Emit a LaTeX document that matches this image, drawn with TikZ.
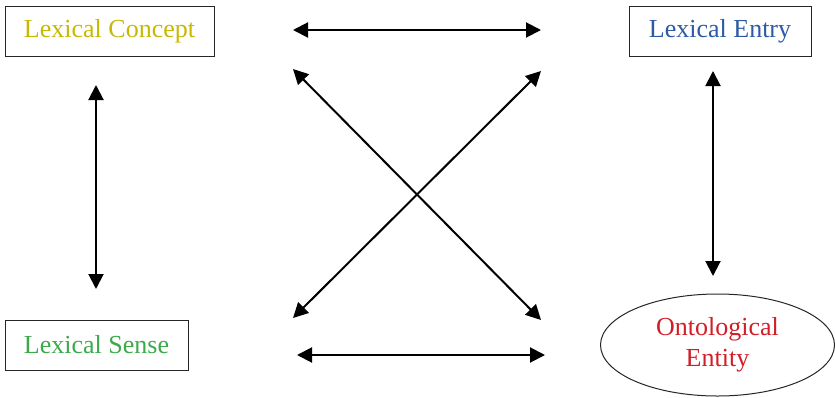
\documentclass[tikz,border=0pt]{standalone}
\usepackage{fontspec}
\setmainfont{Liberation Serif}
\usetikzlibrary{arrows.meta,shapes.geometric}
\definecolor{cconcept}{RGB}{200,185,0}
\definecolor{centry}{RGB}{46,90,165}
\definecolor{csense}{RGB}{60,170,75}
\definecolor{contol}{RGB}{210,30,40}
\tikzset{
  lexbox/.style={draw=black!85, line width=1pt, rectangle, inner sep=0pt, font=\fontsize{26}{28}\selectfont},
  rel/.style={line width=2pt, {Triangle[length=15pt,width=15pt]}-{Triangle[length=15pt,width=15pt]}}
}
\begin{document}
\begin{tikzpicture}[x=1pt,y=-1pt]
\useasboundingbox (0,0) rectangle (835,397);
\node[lexbox, minimum width=209pt, minimum height=50pt, text=cconcept] (concept) at (109.5,31) {Lexical Concept};
\node[lexbox, minimum width=182pt, minimum height=50pt, text=centry] (entry) at (720,31) {Lexical Entry};
\node[lexbox, minimum width=183pt, minimum height=50pt, text=csense] (sense) at (96.5,345) {Lexical Sense};
\node[ellipse, draw=black!85, line width=1pt, minimum width=234pt, minimum height=102pt, inner sep=0pt, align=center, text=contol, font=\fontsize{26}{31}\selectfont] (onto) at (717.5,345) {Ontological\\Entity};
\coordinate (t1) at (293,30); \coordinate (t2) at (541,30);
\coordinate (b1) at (297,355); \coordinate (b2) at (545,355);
\coordinate (l1) at (96,85); \coordinate (l2) at (96,289);
\coordinate (r1) at (713,71); \coordinate (r2) at (713,276);
\coordinate (d1a) at (293,69); \coordinate (d1b) at (541,320);
\coordinate (d2a) at (541,71); \coordinate (d2b) at (293,318);
\draw[rel] (t1) -- (t2);
\draw[rel] (b1) -- (b2);
\draw[rel] (l1) -- (l2);
\draw[rel] (r1) -- (r2);
\draw[rel] (d1a) -- (d1b);
\draw[rel] (d2a) -- (d2b);
\end{tikzpicture}
\end{document}
